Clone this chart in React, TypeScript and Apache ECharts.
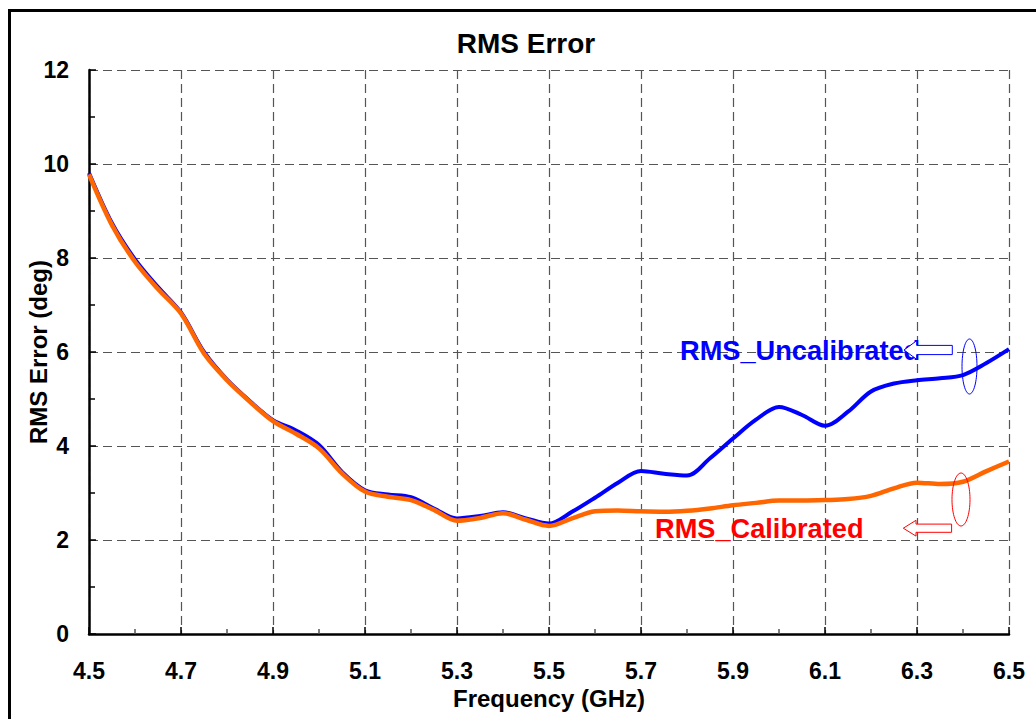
import React, { useEffect, useRef } from "react";
import * as echarts from "echarts";

const frequency = [
  4.5, 4.55, 4.6, 4.65, 4.7, 4.75, 4.8, 4.85, 4.9, 4.95, 5.0, 5.05, 5.1, 5.15,
  5.2, 5.25, 5.3, 5.35, 5.4, 5.45, 5.5, 5.55, 5.6, 5.65, 5.7, 5.75, 5.8, 5.85,
  5.9, 5.95, 6.0, 6.05, 6.1, 6.15, 6.2, 6.25, 6.3, 6.35, 6.4, 6.45, 6.5,
];

const rmsUncalibrated = [
  9.81, 8.74, 7.97, 7.38, 6.84, 6.0, 5.41, 4.95, 4.55, 4.33, 4.02, 3.45, 3.06,
  2.97, 2.91, 2.67, 2.46, 2.51, 2.59, 2.46, 2.35, 2.6, 2.9, 3.22, 3.47, 3.41,
  3.37, 3.74, 4.16, 4.56, 4.83, 4.66, 4.43, 4.73, 5.16, 5.33, 5.4, 5.44, 5.51,
  5.76, 6.06,
];

const rmsCalibrated = [
  9.78, 8.7, 7.92, 7.34, 6.82, 5.97, 5.4, 4.94, 4.53, 4.26, 3.95, 3.42, 3.03,
  2.92, 2.85, 2.64, 2.41, 2.47, 2.57, 2.43, 2.3, 2.46, 2.61, 2.63, 2.61, 2.6,
  2.62, 2.67, 2.74, 2.79, 2.84, 2.84, 2.85, 2.87, 2.94, 3.1, 3.22, 3.19, 3.24,
  3.46, 3.67,
];

const seriesNames = ["RMS_Uncalibrated", "RMS_Calibrated"];
const titleText = "RMS Error";
const xAxisName = "Frequency (GHz)";
const yAxisName = "RMS Error (deg)";

const FONT = "'Liberation Sans', Arial, Helvetica, sans-serif";

function pairs(xs: number[], ys: number[]) {
  return xs.map((x, i) => [x, ys[i]]);
}

export default function App() {
  const ref = useRef<HTMLDivElement>(null);

  useEffect(() => {
    if (!ref.current) return;
    const chart = echarts.init(ref.current, null, { renderer: "svg" });

    const arrow = (tipX: number, cy: number, headH: number, bodyH: number) => [
      [tipX, cy],
      [tipX + 12.7, cy - headH],
      [tipX + 12.7, cy - bodyH],
      [tipX + 48.3, cy - bodyH],
      [tipX + 48.3, cy + bodyH],
      [tipX + 12.7, cy + bodyH],
      [tipX + 12.7, cy + headH],
    ];

    chart.setOption({
      animation: false,
      backgroundColor: "#ffffff",
      textStyle: { fontFamily: FONT },
      grid: { left: 89, top: 70, right: 27, bottom: 85, containLabel: false },
      xAxis: {
        type: "value",
        min: 4.5,
        max: 6.5,
        interval: 0.2,
        name: xAxisName,
        nameLocation: "middle",
        nameGap: 43,
        nameTextStyle: { fontSize: 24, fontWeight: "bold", color: "#000", fontFamily: FONT },
        axisLine: { show: true, onZero: false, lineStyle: { color: "#000", width: 2.5 } },
        axisTick: { show: true, inside: true, length: 7, lineStyle: { color: "#000", width: 1.5 } },
        minorTick: { show: true, splitNumber: 2, length: 5, lineStyle: { color: "#555", width: 1.5 } },
        axisLabel: {
          margin: 25,
          fontSize: 23,
          fontWeight: "bold",
          color: "#000",
          fontFamily: FONT,
          formatter: (v: number) => v.toFixed(1),
        },
        splitLine: { show: true, lineStyle: { color: "#555", width: 1.2, type: [9, 5] } },
      },
      yAxis: {
        type: "value",
        min: 0,
        max: 12,
        interval: 2,
        axisLine: { show: true, lineStyle: { color: "#000", width: 2.5 } },
        axisTick: { show: true, inside: true, length: 7, lineStyle: { color: "#000", width: 1.5 } },
        minorTick: { show: true, splitNumber: 2, length: 6, lineStyle: { color: "#000", width: 1.5 } },
        axisLabel: {
          margin: 20,
          fontSize: 23,
          fontWeight: "bold",
          color: "#000",
          fontFamily: FONT,
        },
        splitLine: { show: true, lineStyle: { color: "#555", width: 1.2, type: [9, 5] } },
      },
      series: [
        {
          name: seriesNames[0],
          type: "line",
          data: pairs(frequency, rmsUncalibrated),
          smooth: 0.33,
          showSymbol: false,
          symbol: "none",
          lineStyle: { color: "#0000ff", width: 4 },
          z: 3,
        },
        {
          name: seriesNames[1],
          type: "line",
          data: pairs(frequency, rmsCalibrated),
          smooth: 0.33,
          showSymbol: false,
          symbol: "none",
          lineStyle: { color: "#ff6600", width: 4.5 },
          z: 4,
        },
      ],
      graphic: [
        {
          type: "rect",
          shape: { x: 9.5, y: 10.5, width: 1200, height: 900 },
          style: { fill: "none", stroke: "#000", lineWidth: 3 },
          silent: true,
          z: 0,
        },
        {
          type: "text",
          x: 526,
          y: 43,
          style: {
            text: titleText,
            fill: "#000",
            font: `bold 28px ${FONT}`,
            textAlign: "center",
            textVerticalAlign: "middle",
          },
          z: 10,
        },
        {
          type: "text",
          x: 38,
          y: 352,
          rotation: Math.PI / 2,
          style: {
            text: yAxisName,
            fill: "#000",
            font: `bold 24px ${FONT}`,
            textAlign: "center",
            textVerticalAlign: "middle",
          },
          z: 10,
        },
        {
          type: "text",
          x: 680,
          y: 350,
          style: {
            text: seriesNames[0],
            fill: "#0000ff",
            font: `bold 27.2px ${FONT}`,
            textAlign: "left",
            textVerticalAlign: "middle",
          },
          z: 10,
        },
        {
          type: "polygon",
          shape: { points: arrow(904, 350, 9.3, 4.6) },
          style: { fill: "#ffffff", stroke: "#0000ff", lineWidth: 1 },
          z: 11,
        },
        {
          type: "ellipse",
          shape: { cx: 969.5, cy: 366.5, rx: 7.5, ry: 27.5 },
          style: { fill: "none", stroke: "#0000ff", lineWidth: 1 },
          z: 11,
        },
        {
          type: "text",
          x: 655,
          y: 528,
          style: {
            text: seriesNames[1],
            fill: "#ff0000",
            font: `bold 27.2px ${FONT}`,
            textAlign: "left",
            textVerticalAlign: "middle",
          },
          z: 10,
        },
        {
          type: "polygon",
          shape: { points: arrow(903.3, 528.2, 7.9, 4.1) },
          style: { fill: "#ffffff", stroke: "#ff0000", lineWidth: 1 },
          z: 11,
        },
        {
          type: "ellipse",
          shape: { cx: 961, cy: 499.5, rx: 9, ry: 26.5 },
          style: { fill: "none", stroke: "#ff0000", lineWidth: 1 },
          z: 11,
        },
      ],
    });

    return () => chart.dispose();
  }, []);

  return (
    <div
      ref={ref}
      style={{ position: "absolute", left: 0, top: 0, width: 1036, height: 719, background: "#fff" }}
    />
  );
}
